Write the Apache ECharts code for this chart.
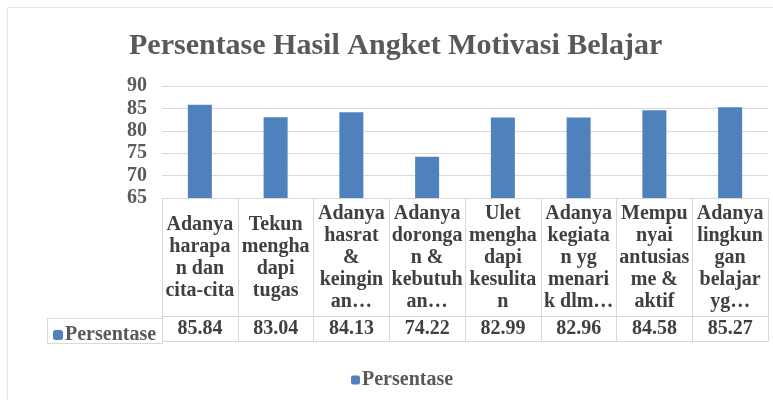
<!DOCTYPE html>
<html>
<head>
<meta charset="utf-8">
<script src="https://cdn.jsdelivr.net/npm/echarts@6/dist/echarts.min.js"></script>
<style>
  html, body { margin: 0; padding: 0; background: #fff; }
</style>
</head>
<body>
<div id="main" style="width:773px;height:400px;"></div>
<script type="text/javascript">
// data
var categories = [
  'Adanya\nharapa\nn dan\ncita-cita',
  'Tekun\nmengha\ndapi\ntugas',
  'Adanya\nhasrat\n&\nkeingin\nan\u2026',
  'Adanya\ndoronga\nn &\nkebutuh\nan\u2026',
  'Ulet\nmengha\ndapi\nkesulita\nn',
  'Adanya\nkegiata\nn yg\nmenari\nk dlm\u2026',
  'Mempu\nnyai\nantusias\nme &\naktif',
  'Adanya\nlingkun\ngan\nbelajar\nyg\u2026'
];
var persentase = [85.84, 83.04, 84.13, 74.22, 82.99, 82.96, 84.58, 85.27];
var yTicks = [65, 70, 75, 80, 85, 90];

var serif = '"Liberation Serif", "Times New Roman", serif';
var gridColor = '#d9d9d9';

var chart = echarts.init(document.getElementById('main'));

chart.setOption({
  animation: false,
  title: {
    text: 'Persentase Hasil Angket Motivasi Belajar',
    left: 124,
    top: 26,
    textStyle: { fontFamily: serif, fontSize: 30, fontWeight: 'bold', color: '#595959' }
  },
  legend: [
    {
      // legend key inside the data table
      data: ['Persentase'],
      left: 48,
      top: 320,
      itemWidth: 10,
      itemHeight: 10,
      itemGap: 0,
      textStyle: { fontFamily: serif, fontSize: 20, fontWeight: 'bold', color: '#595959', padding: [0, 0, 0, -3] },
      selectedMode: false
    },
    {
      data: ['Persentase'],
      left: 346,
      top: 365,
      itemWidth: 9,
      itemHeight: 9,
      textStyle: { fontFamily: serif, fontSize: 20, fontWeight: 'bold', color: '#595959', padding: [0, 0, 0, -3] },
      selectedMode: false
    }
  ],
  grid: { left: 162, right: 5, top: 86, bottom: 202 },
  xAxis: [
    {
      type: 'category',
      data: categories,
      axisLine: { show: true, lineStyle: { color: gridColor } },
      axisTick: { show: true, length: 143, interval: 0, lineStyle: { color: gridColor } },
      axisLabel: {
        interval: 0,
        margin: 60,
        verticalAlign: 'middle',
        lineHeight: 22,
        fontFamily: serif,
        fontSize: 20,
        fontWeight: 'bold',
        color: '#404040'
      }
    },
    {
      type: 'category',
      data: categories,
      position: 'bottom',
      offset: 118,
      axisLine: { show: true, lineStyle: { color: gridColor } },
      axisTick: { show: false },
      axisLabel: {
        interval: 0,
        margin: 13,
        verticalAlign: 'middle',
        fontFamily: serif,
        fontSize: 20,
        fontWeight: 'bold',
        color: '#404040',
        formatter: function (v, i) { return persentase[i].toFixed(2); }
      }
    },
    {
      type: 'category',
      data: categories,
      position: 'bottom',
      offset: 143,
      axisLine: { show: true, lineStyle: { color: gridColor } },
      axisTick: { show: false },
      axisLabel: { show: false }
    }
  ],
  yAxis: {
    type: 'value',
    min: yTicks[0],
    max: yTicks[yTicks.length - 1],
    interval: 5,
    axisLine: { show: false },
    axisTick: { show: false },
    splitLine: { lineStyle: { color: gridColor } },
    axisLabel: {
      margin: 15,
      fontFamily: serif,
      fontSize: 20,
      fontWeight: 'bold',
      color: '#595959'
    }
  },
  graphic: [
    {
      type: 'rect',
      shape: { x: 7.5, y: 7.5, width: 800, height: 500 },
      style: { fill: 'none', stroke: '#e6e6e6', lineWidth: 1 },
      silent: true
    },
    {
      type: 'rect',
      shape: { x: 47.5, y: 318.5, width: 115, height: 25 },
      style: { fill: 'none', stroke: gridColor, lineWidth: 1 },
      silent: true
    }
  ],
  series: [
    {
      name: 'Persentase',
      type: 'bar',
      data: persentase,
      barWidth: 24,
      itemStyle: { color: '#4f81bd' }
    }
  ]
});
</script>
</body>
</html>
